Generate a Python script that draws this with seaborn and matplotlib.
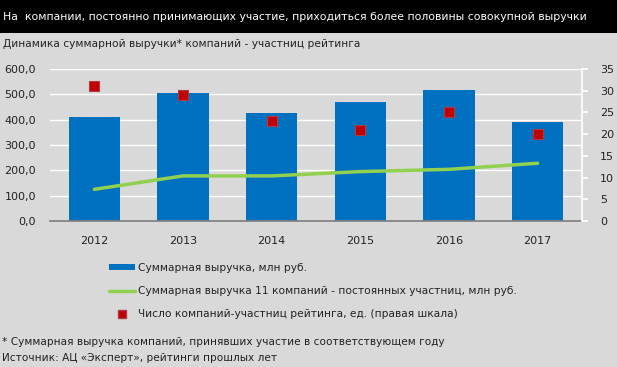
import matplotlib
matplotlib.use("Agg")
import matplotlib.pyplot as plt
import seaborn as sns
import pandas as pd
from matplotlib.lines import Line2D
from matplotlib.patches import Patch

years = ["2012", "2013", "2014", "2015", "2016", "2017"]
revenue_total = [411, 506, 427, 470, 518, 391]
revenue_11 = [125, 178, 178, 195, 204, 228]
num_companies = [31, 29, 23, 21, 25, 20]
left_ticks = [0, 100, 200, 300, 400, 500, 600]
right_ticks = [0, 5, 10, 15, 20, 25, 30, 35]

title = "На  компании, постоянно принимающих участие, приходиться более половины совокупной выручки"
subtitle = "Динамика суммарной выручки* компаний - участниц рейтинга"
legend_labels = ["Суммарная выручка, млн руб.",
                 "Суммарная выручка 11 компаний - постоянных участниц, млн руб.",
                 "Число компаний-участниц рейтинга, ед. (правая шкала)"]
foot1 = "* Суммарная выручка компаний, принявших участие в соответствующем году"
foot2 = "Источник: АЦ «Эксперт», рейтинги прошлых лет"

df = pd.DataFrame({"year": years, "total": revenue_total, "eleven": revenue_11, "num": num_companies})

sns.set_theme(style="white")
plt.rcParams['font.family'] = ['DejaVu Sans']

BG = "#d9d9d9"
TXT = "#222222"
W, H = 617, 367
fig = plt.figure(figsize=(W / 100, H / 100), dpi=100, facecolor=BG)

# black title band
band = fig.add_axes([0, 1 - 33 / H, 1, 33 / H])
band.set_facecolor("black")
band.set_xticks([]); band.set_yticks([])
for s in band.spines.values():
    s.set_visible(False)
fig.text(3 / W, 1 - 17 / H, title, color="white", fontsize=7.8, va="center", ha="left")
fig.text(3 / W, 1 - 44 / H, subtitle, color=TXT, fontsize=7.7, va="center", ha="left")

ax = fig.add_axes([50 / W, (H - 221) / H, 532 / W, 152 / H])
ax.set_facecolor(BG)
sns.barplot(data=df, x="year", y="total", color="#0070c0", width=0.58, saturation=1,
            linewidth=0, ax=ax, zorder=2)
sns.lineplot(data=df, x="year", y="eleven", color="#92d050", linewidth=2.5, ax=ax, zorder=3, sort=False)
ax.set_ylim(0, 600)
ax.set_yticks(left_ticks)
ax.set_yticklabels([f"{v},0" for v in left_ticks], fontsize=8, color=TXT)
ax.yaxis.grid(True, color="white", linewidth=1)
ax.set_axisbelow(True)
for s in ["top", "right", "left"]:
    ax.spines[s].set_visible(False)
ax.spines["bottom"].set_color("#808080")
ax.tick_params(axis="y", length=0, pad=10)
ax.tick_params(axis="x", length=0, pad=11, labelsize=8, colors=TXT)
ax.set_xlabel(""); ax.set_ylabel("")
ax.set_xlim(-0.5, 5.5)

ax2 = ax.twinx()
sns.scatterplot(data=df, x="year", y="num", marker="s", s=55, color="#c00000",
                edgecolor="#b03a48", linewidth=0.8, ax=ax2, zorder=4)
ax2.set_ylim(0, 35)
ax2.set_yticks(right_ticks)
ax2.tick_params(axis="y", labelsize=8, colors=TXT, length=4, color="white", pad=9)
for s in ["top", "left", "bottom"]:
    ax2.spines[s].set_visible(False)
ax2.spines["right"].set_color("white")
ax2.set_ylabel("")
ax2.set_xlim(-0.5, 5.5)

# legend
handles = [Patch(facecolor="#0070c0", edgecolor="none"),
           Line2D([0], [0], color="#92d050", linewidth=2.5),
           Line2D([0], [0], marker="s", linestyle="none", markersize=6, markerfacecolor="#c00000",
                  markeredgecolor="#b03a48")]
leg = fig.legend(handles, legend_labels, loc="upper left", bbox_to_anchor=(99 / W, 1 - 253 / H),
                 frameon=False, fontsize=7.7, labelspacing=1.25, handlelength=2.5, handletextpad=0.2,
                 handleheight=0.5)
for t in leg.get_texts():
    t.set_color(TXT)

fig.text(2 / W, 1 - 342 / H, foot1, fontsize=7.6, color=TXT, va="center")
fig.text(2 / W, 1 - 358 / H, foot2, fontsize=7.6, color=TXT, va="center")

fig.savefig("out.png", dpi=100, facecolor=BG)
